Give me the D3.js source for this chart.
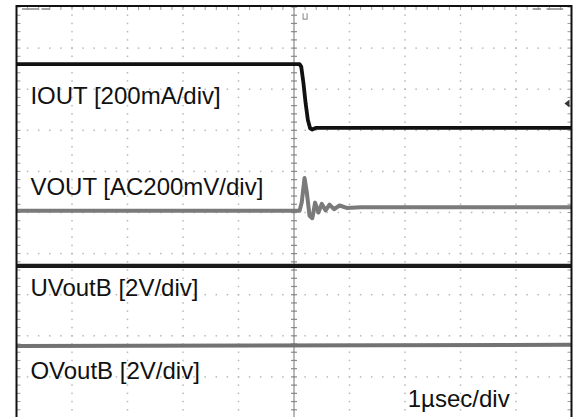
<!DOCTYPE html>
<html>
<head>
<meta charset="utf-8">
<script src="https://cdn.jsdelivr.net/npm/d3@7"></script>
<style>
  html, body { margin: 0; padding: 0; background: #fff; }
  svg { display: block; }
</style>
</head>
<body>
<div id="scope"></div>
<script>
// Scope capture — time in µs (1µs/div), vertical in divisions from screen centre
const timeDomain = [-5, 5];
const divDomain = [-5, 5];

// IOUT (200mA/div): load step down just after trigger
const ioutT = [-5, 0.10, 0.13, 0.17, 0.21, 0.25, 0.29, 0.33, 0.40, 5];
const ioutV = [3.61, 3.61, 3.55, 3.15, 2.65, 2.25, 2.05, 2.02, 2.06, 2.06];

// VOUT (AC 200mV/div): overshoot and ringing
const voutT = [-5, 0.10, 0.14, 0.19, 0.23, 0.28, 0.33, 0.38, 0.44, 0.50, 0.57, 0.64, 0.72, 0.82, 0.95, 1.2, 5];
const voutV = [0.04, 0.04, 0.25, 0.84, 0.50, -0.08, -0.14, 0.24, 0.00, 0.21, 0.05, 0.19, 0.08, 0.17, 0.11, 0.13, 0.13];

// UVoutB and OVoutB (2V/div): flat
const uvT = [-5, 5];
const uvV = [-1.30, -1.30];
const ovT = [-5, 5];
const ovV = [-3.25, -3.22];

const labels = [
    { text: 'IOUT [200mA/div]', t: -4.75, v: 2.63 },
    { text: 'VOUT [AC200mV/div]', t: -4.75, v: 0.43 },
    { text: 'UVoutB [2V/div]', t: -4.75, v: -2.02 },
    { text: 'OVoutB [2V/div]', t: -4.75, v: -4.04 }
];
const timeLabel = { text: '1µsec/div', t: 2.05, v: -4.73 };

(function () {
    const width = 576, height = 417;

    const svg = d3.select('#scope').append('svg')
        .attr('width', width)
        .attr('height', height);

    const x = d3.scaleLinear().domain(timeDomain).range([16.5, 571.5]);
    const y = d3.scaleLinear().domain(divDomain).range([418, 7]);

    // Dotted graticule
    const dots = [];
    d3.range(-4, 5).forEach(k => {
        d3.range(-25, 26).forEach(m => dots.push([k, m / 5]));
    });
    d3.range(-4, 5).forEach(k => {
        d3.range(-25, 26).forEach(m => dots.push([m / 5, k]));
    });
    svg.append('g')
        .selectAll('rect')
        .data(dots)
        .join('rect')
        .attr('x', d => x(d[0]) - 0.75)
        .attr('y', d => y(d[1]) - 0.75)
        .attr('width', 1.5)
        .attr('height', 1.5)
        .attr('fill', '#b8b8b8');

    // Centre vertical axis with minor ticks
    const axis = svg.append('g').attr('stroke', '#8a8a8a');
    axis.append('line')
        .attr('x1', x(0)).attr('x2', x(0))
        .attr('y1', y(5)).attr('y2', y(-5))
        .attr('stroke-width', 1.2);
    axis.selectAll('line.tick')
        .data(d3.range(-25, 26).map(m => m / 5))
        .join('line')
        .attr('class', 'tick')
        .attr('x1', x(0) - 3).attr('x2', x(0) + 3)
        .attr('y1', d => y(d)).attr('y2', d => y(d))
        .attr('stroke-width', 1.2);

    // Edge ticks
    const edge = svg.append('g').attr('stroke', '#9a9a9a').attr('stroke-width', 1);
    edge.selectAll('line.l')
        .data(d3.range(-25, 26).map(m => m / 5))
        .join('line')
        .attr('class', 'l')
        .attr('x1', x(-5)).attr('x2', x(-5) + 4)
        .attr('y1', d => y(d)).attr('y2', d => y(d));
    edge.selectAll('line.r')
        .data(d3.range(-25, 26).map(m => m / 5))
        .join('line')
        .attr('class', 'r')
        .attr('x1', x(5) - 4).attr('x2', x(5))
        .attr('y1', d => y(d)).attr('y2', d => y(d));
    edge.selectAll('line.t')
        .data(d3.range(-25, 26).map(m => m / 5))
        .join('line')
        .attr('class', 't')
        .attr('x1', d => x(d)).attr('x2', d => x(d))
        .attr('y1', y(5)).attr('y2', y(5) + 3);

    // Traces
    const line = d3.line()
        .x(d => x(d[0]))
        .y(d => y(d[1]));

    const traces = [
        { t: voutT, v: voutV, color: '#7a7a7a', w: 4 },
        { t: ovT, v: ovV, color: '#727272', w: 4 },
        { t: ioutT, v: ioutV, color: '#111', w: 3.8 },
        { t: uvT, v: uvV, color: '#1a1a1a', w: 4.2 }
    ];
    svg.append('g')
        .selectAll('path')
        .data(traces)
        .join('path')
        .attr('d', d => line(d.t.map((t, i) => [t, d.v[i]])))
        .attr('fill', 'none')
        .attr('stroke', d => d.color)
        .attr('stroke-width', d => d.w)
        .attr('stroke-linejoin', 'round');

    // Trigger markers
    svg.append('path')
        .attr('d', `M${x(0.2) - 2},${y(4.85)} v6 h4 v-6`)
        .attr('fill', 'none')
        .attr('stroke', '#999')
        .attr('stroke-width', 1.2);
    svg.append('path')
        .attr('d', `M${x(5) - 2},${y(2.65) - 4} l-5,4 l5,4 z`)
        .attr('fill', '#333');

    // Scope readout fragments along the top edge
    svg.append('g')
        .attr('stroke', '#888')
        .attr('stroke-width', 1.5)
        .selectAll('line')
        .data([[-4.9, -4.6], [-4.55, -4.4], [4.3, 4.45], [4.55, 4.85]])
        .join('line')
        .attr('x1', d => x(d[0])).attr('x2', d => x(d[1]))
        .attr('y1', y(5) + 2).attr('y2', y(5) + 2);

    // Frame
    svg.append('path')
        .attr('d', `M${x(-5)},${height + 2} V${y(5) - 1} H${x(5)} V${height + 2}`)
        .attr('fill', 'none')
        .attr('stroke', '#111')
        .attr('stroke-width', 2);

    // Labels
    svg.append('g')
        .selectAll('text')
        .data(labels.concat([timeLabel]))
        .join('text')
        .attr('x', d => x(d.t))
        .attr('y', d => y(d.v))
        .attr('font-family', '"Liberation Sans", Arial, sans-serif')
        .attr('font-size', '24px')
        .attr('fill', '#111')
        .text(d => d.text);
})();
</script>
</body>
</html>
